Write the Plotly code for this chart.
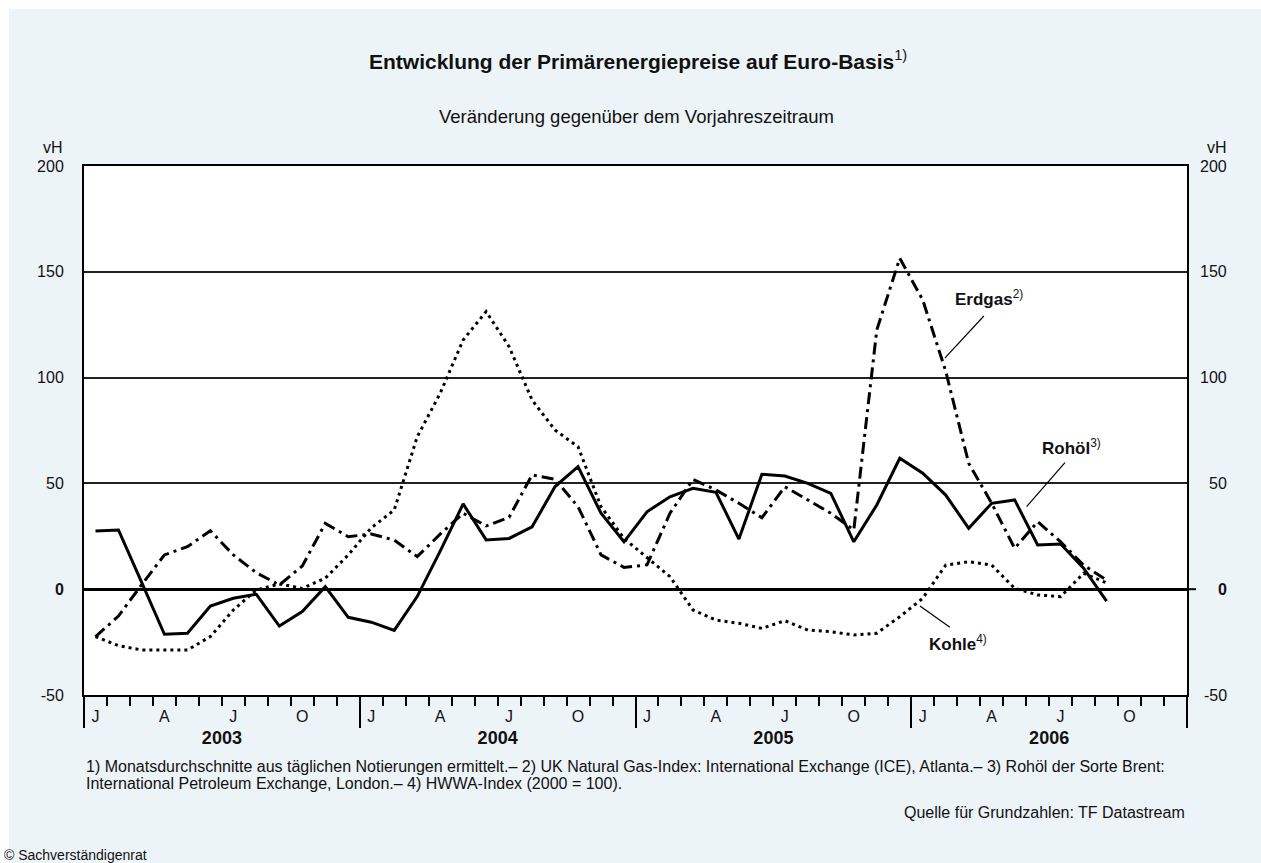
import plotly.graph_objects as go

# ---------------- data ----------------
years = ["2003", "2004", "2005", "2006"]
month_letters = ["J", "F", "M", "A", "M", "J", "J", "A", "S", "O", "N", "D"]
shown_months = [0, 3, 6, 9]  # J, A, J, O

rohoel = [27.5, 28, 3.5, -21.3, -20.8, -8, -4.3, -2.4, -17.4, -10.6, 1.2, -13.3,
          -15.6, -19.5, -3.5, 18, 40.3, 23.3, 24, 29.5, 48.5, 57.9, 35.9, 22.4,
          36.6, 43.7, 47.7, 45.8, 23.7, 54.3, 53.5, 50, 45.3, 22.4, 39.8, 61.9,
          54.8, 44.5, 28.8, 40.6, 42.2, 20.9, 21.4, 9.9, -5.6]
erdgas = [-22.4, -12.7, 2, 16.2, 20.1, 27.6, 16.2, 7.8, 2, 11, 31.1, 24.8,
          26.1, 23.2, 15.4, 26, 35.9, 29.9, 34, 54, 51.9, 39, 16.2, 10.3,
          11.5, 35.9, 51.9, 46.9, 40.6, 33.8, 48.4, 42.2, 35.9, 28, 122.5, 156.4,
          136.7, 103, 59.5, 40.6, 19.3, 31.9, 22.4, 11.4, 4.3]
kohle = [-22.4, -26.7, -28.7, -28.7, -28.7, -22.4, -9.8, -0.4, 2.5, 0.4, 5.2, 16.2,
         29, 37.4, 72, 92.6, 117.8, 131.2, 114.6, 89.4, 75.2, 67.3, 39, 24,
         15, 5.9, -9.8, -14.6, -16.1, -18.5, -14.9, -19.3, -20.1, -21.6, -20.8, -13,
         -4.3, 11.4, 13, 11.4, 0.4, -2.7, -3.5, 7.5, 3]

y_ticks = [-50, 0, 50, 100, 150, 200]
y_ticktext = ["-50", "<b>0</b>", "50", "100", "150", "200"]

title = "<b>Entwicklung der Primärenergiepreise auf Euro-Basis</b><sup>1)</sup>"
subtitle = "Veränderung gegenüber dem Vorjahreszeitraum"
footnote1 = ("1) Monatsdurchschnitte aus täglichen Notierungen ermittelt.– 2) UK Natural Gas-Index: "
             "International Exchange (ICE), Atlanta.– 3) Rohöl der Sorte Brent:")
footnote2 = "International Petroleum Exchange, London.– 4) HWWA-Index (2000 = 100)."
source = "Quelle für Grundzahlen: TF Datastream"
copyright_txt = "© Sachverständigenrat"

# ---------------- derived positions ----------------
n_months = len(years) * 12
x_idx = list(range(len(rohoel)))
month_bounds = [i - 0.5 for i in range(n_months + 1)]
year_bounds = [i * 12 - 0.5 for i in range(len(years) + 1)]
month_label_pos = [y * 12 + m for y in range(len(years)) for m in shown_months]
month_label_txt = [month_letters[m] for y in range(len(years)) for m in shown_months]
year_label_pos = [y * 12 + 5.5 for y in range(len(years))]
year_label_txt = ["<b>%s</b>" % y for y in years]
xr = [-0.5, n_months - 0.5]

FONT = "Liberation Sans, Arial, Helvetica, sans-serif"
BG = "#EDF4F8"

W, H = 1261, 863
L, R, T, B = 84, 74, 166, 168
PW, PH = W - L - R, H - T - B


def px(xp):
    return (xp - L) / PW


def py(yp):
    return (H - B - yp) / PH


fig = go.Figure()
fig.add_trace(go.Scatter(x=x_idx, y=kohle, mode="lines", name="Kohle",
                         line=dict(color="black", width=3, dash="3px,4px")))
fig.add_trace(go.Scatter(x=x_idx, y=erdgas, mode="lines", name="Erdgas",
                         line=dict(color="black", width=3, dash="12px,5px,3px,5px")))
fig.add_trace(go.Scatter(x=x_idx, y=rohoel, mode="lines", name="Rohöl",
                         line=dict(color="black", width=3)))
# empty traces so that the overlaying axes (year ticks, labels) are drawn
for ax in ["x2", "x3", "x4"]:
    fig.add_trace(go.Scatter(x=[None], y=[None], xaxis=ax, yaxis="y",
                             mode="lines", hoverinfo="skip", showlegend=False))

axis_common = dict(range=xr, showgrid=False, zeroline=False, fixedrange=True)

fig.update_layout(
    width=W, height=H,
    margin=dict(l=L, r=R, t=T, b=B, pad=0),
    paper_bgcolor=BG, plot_bgcolor="white",
    showlegend=False,
    font=dict(family=FONT, size=16, color="#111"),
    xaxis=dict(**axis_common, tickmode="array", tickvals=month_bounds,
               ticks="outside", ticklen=9, tickwidth=1.5, tickcolor="black",
               showticklabels=False, showline=True, linewidth=2,
               linecolor="black", mirror=True),
    xaxis2=dict(**axis_common, overlaying="x", anchor="y", side="bottom",
                tickmode="array", tickvals=year_bounds, ticks="outside",
                ticklen=32, tickwidth=2, tickcolor="black",
                showticklabels=False, showline=False),
    xaxis3=dict(**axis_common, overlaying="x", anchor="y", side="bottom",
                tickmode="array", tickvals=month_label_pos,
                ticktext=month_label_txt, ticks="", showline=False,
                ticklabelstandoff=10, tickfont=dict(size=16)),
    xaxis4=dict(**axis_common, overlaying="x", anchor="y", side="bottom",
                tickmode="array", tickvals=year_label_pos,
                ticktext=year_label_txt, ticks="", showline=False,
                ticklabelstandoff=30, tickfont=dict(size=18)),
    yaxis=dict(range=[-50, 200], tickmode="array", tickvals=y_ticks,
               ticktext=y_ticktext, ticks="", ticklabelstandoff=15,
               showgrid=True, gridcolor="#222", gridwidth=1.5,
               zeroline=True, zerolinecolor="black", zerolinewidth=3,
               showline=True, linewidth=2, linecolor="black", mirror=True,
               fixedrange=True, tickfont=dict(size=16)),
)

ann = []
# right-hand tick labels (right aligned)
for v, t in zip(y_ticks, y_ticktext):
    ann.append(dict(x=px(1229), y=v, xref="paper", yref="y", text=t,
                    xanchor="right", yanchor="middle", showarrow=False,
                    font=dict(size=16)))
ann += [
    dict(x=px(638), y=py(60), text=title, font=dict(size=21)),
    dict(x=px(636), y=py(116), text=subtitle, font=dict(size=18.5)),
    dict(x=px(65), y=py(147), text="vH", font=dict(size=16), xanchor="right"),
    dict(x=px(1229), y=py(147), text="vH", font=dict(size=16), xanchor="right"),
    dict(x=px(84), y=py(766), text=footnote1, font=dict(size=16), xanchor="left"),
    dict(x=px(84), y=py(783), text=footnote2, font=dict(size=16), xanchor="left"),
    dict(x=px(1187), y=py(812), text=source, font=dict(size=16), xanchor="right"),
    dict(x=px(2), y=py(855), text=copyright_txt, font=dict(size=14), xanchor="left"),
]
for a in ann[len(y_ticks):]:
    a.setdefault("xanchor", "center")
    a.update(xref="paper", yref="paper", yanchor="middle", showarrow=False)

# series labels
ann += [
    dict(x=37.3, y=137.6, text="<b>Erdgas</b><sup>2)</sup>"),
    dict(x=41.1, y=67.2, text="<b>Rohöl</b><sup>3)</sup>"),
    dict(x=36.2, y=-25.3, text="<b>Kohle</b><sup>4)</sup>"),
]
for a in ann[-3:]:
    a.update(xref="x", yref="y", xanchor="left", yanchor="middle",
             showarrow=False, font=dict(size=17))
fig.update_layout(annotations=ann)

shapes = [
    # white border strips of the page
    dict(type="rect", xref="paper", yref="paper", x0=px(0), x1=px(W),
         y0=py(9), y1=py(0), fillcolor="white", line_width=0),
    dict(type="rect", xref="paper", yref="paper", x0=px(0), x1=px(9),
         y0=py(H), y1=py(0), fillcolor="white", line_width=0),
    # zero tick on the right
    dict(type="line", xref="paper", yref="y", x0=1, x1=px(1196), y0=0, y1=0,
         line=dict(color="black", width=2)),
    # leader lines
    dict(type="line", xref="x", yref="y", x0=38.66, y0=129.1, x1=36.97, y1=109.3,
         line=dict(color="black", width=1.2)),
    dict(type="line", xref="x", yref="y", x0=42.19, y0=59.8, x1=40.52, y1=39.0,
         line=dict(color="black", width=1.2)),
    dict(type="line", xref="x", yref="y", x0=35.88, y0=-7.9, x1=37.18, y1=-18.0,
         line=dict(color="black", width=1.2)),
]
fig.update_layout(shapes=shapes)

fig.write_html("out.html", config={"displayModeBar": False},
               post_script="document.body.style.margin='0px';document.body.style.overflow='hidden';")
